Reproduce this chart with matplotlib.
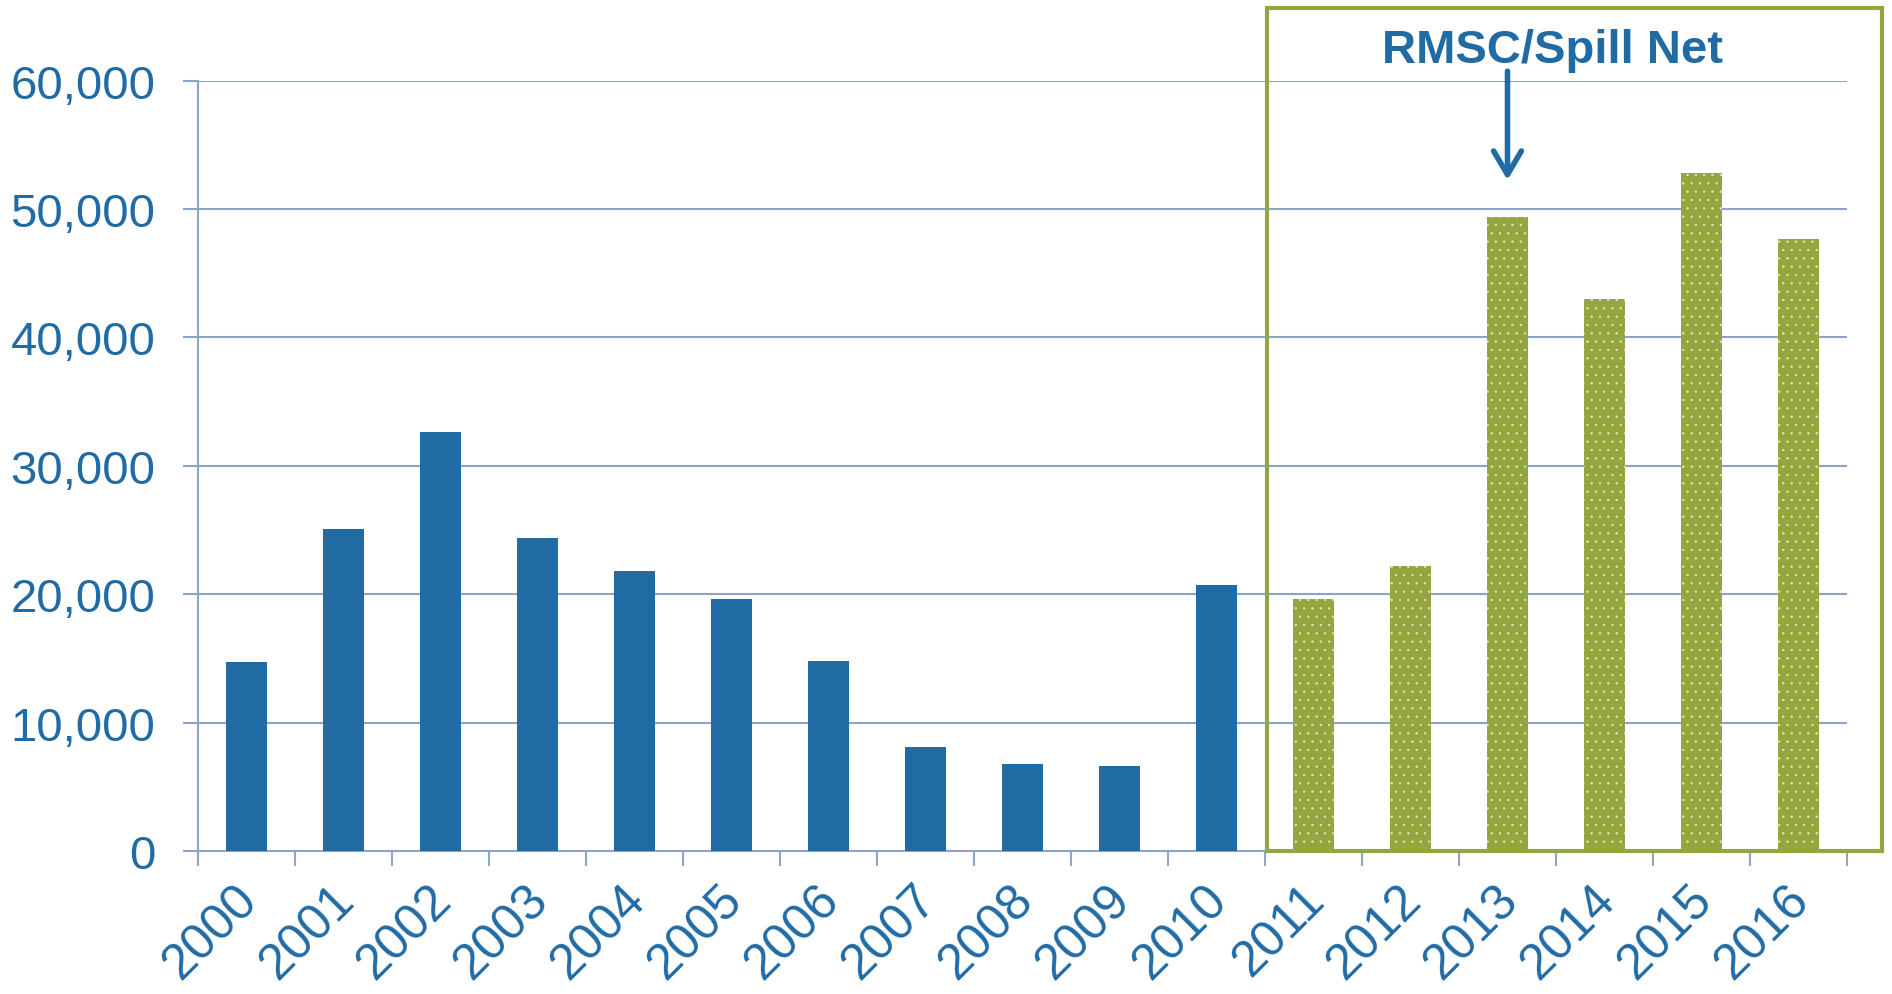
import matplotlib
matplotlib.use("Agg")
import matplotlib.pyplot as plt
from matplotlib.patches import Rectangle
from matplotlib.ticker import FuncFormatter
from matplotlib.transforms import ScaledTranslation

# --- data ---
years_before = ['2000', '2001', '2002', '2003', '2004', '2005',
                '2006', '2007', '2008', '2009', '2010']
values_before = [14700, 25100, 32600, 24400, 21800, 19600,
                 14800, 8100, 6800, 6600, 20700]
years_rmsc = ['2011', '2012', '2013', '2014', '2015', '2016']
values_rmsc = [19600, 22200, 49400, 43000, 52800, 47700]
y_ticks = [0, 10000, 20000, 30000, 40000, 50000, 60000]
note_text = 'RMSC/Spill Net'
note_year = '2013'

BLUE = '#216BA5'
GREEN = '#94A63D'
GRID = '#8EA4C6'

plt.rcParams['font.family'] = ['Liberation Sans', 'DejaVu Sans']
plt.rcParams['hatch.color'] = '#E4E9CF'
plt.rcParams['hatch.linewidth'] = 0.4

fig = plt.figure(figsize=(18.92, 9.95), dpi=100)
ax = fig.add_axes([0.1047, 0.1437, 0.8715, 0.7742])

years = years_before + years_rmsc
x_before = list(range(len(years_before)))
x_rmsc = list(range(len(years_before), len(years)))

ax.bar(x_before, values_before, width=0.42, color=BLUE, linewidth=0, zorder=3)
ax.bar(x_rmsc, values_rmsc, width=0.42, color=GREEN, hatch='..', linewidth=0, zorder=3)

ax.set_xlim(-0.5, len(years) - 0.5)
ax.set_ylim(0, 60000)

ax.set_yticks(y_ticks)
ax.yaxis.set_major_formatter(FuncFormatter(lambda v, p: f'{v:,.0f}'))
ax.yaxis.grid(True, color=GRID, linewidth=1.5, zorder=0)
ax.set_axisbelow(True)

ax.set_xticks(range(len(years)))
ax.set_xticklabels(years, rotation=45, ha='right')
ax.set_xticks([i - 0.5 for i in range(len(years) + 1)], minor=True)

ax.tick_params(axis='y', length=10.8, width=1.5, color=GRID, pad=20,
               labelsize=34, labelcolor=BLUE)
ax.tick_params(axis='x', which='major', length=0, pad=18,
               labelsize=36, labelcolor=BLUE)
ax.tick_params(axis='x', which='minor', length=10.8, width=1.5, color=GRID)

shift = ScaledTranslation(0.2, 0, fig.dpi_scale_trans)
for lbl in ax.get_xticklabels():
    lbl.set_transform(lbl.get_transform() + shift)

for s in ['top', 'right']:
    ax.spines[s].set_visible(False)
for s in ['left', 'bottom']:
    ax.spines[s].set_color(GRID)
    ax.spines[s].set_linewidth(1.5)

# green box around the RMSC years
box = Rectangle((len(years_before) - 0.48, 0), 16.86 - (len(years_before) - 0.48), 65650,
                fill=False, edgecolor=GREEN, linewidth=3, clip_on=False, zorder=4)
ax.add_patch(box)

xi = years.index(note_year)
ax.text(xi + 0.46, 61450, note_text, ha='center', va='baseline', fontsize=34,
        fontweight='bold', color=BLUE)
ax.annotate('', xy=(xi, 52260), xytext=(xi, 60740), annotation_clip=False,
            arrowprops=dict(arrowstyle='->,head_length=0.85,head_width=0.5',
                            mutation_scale=20, lw=4, color=BLUE,
                            shrinkA=0, shrinkB=0))

fig.savefig('out.png', dpi=100)
